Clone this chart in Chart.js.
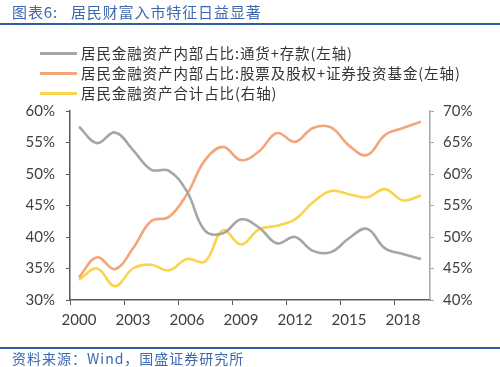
<!DOCTYPE html>
<html>
<head>
<meta charset="utf-8">
<script src="https://cdn.jsdelivr.net/npm/chart.js@4"></script>
<style>
  html, body { margin: 0; padding: 0; background: #fff; }
  #wrap { position: relative; width: 500px; height: 367px; overflow: hidden; }
  #chart { position: absolute; left: 0; top: 0; }
  .title { position: absolute; left: 12px; top: 1px; font: 15px "Noto Sans CJK SC", sans-serif; color: #3d68b0; white-space: pre; letter-spacing: 0.9px; }
  .rule { position: absolute; left: 0; width: 500px; height: 2px; background: #2e5fa3; }
  .source { position: absolute; left: 12px; top: 349px; font: 14px "Noto Sans CJK SC", sans-serif; color: #3d68b0; white-space: pre; line-height: 18px; letter-spacing: 1px; }
  #legend { position: absolute; left: 0; top: 0; }
  .lg { position: absolute; left: 40px; height: 20px; white-space: nowrap; }
  .lg i { position: absolute; left: 0; top: 9px; width: 37px; height: 3px; }
  .lg span { position: absolute; left: 41px; top: 0; font: 14.5px "Noto Sans CJK SC", sans-serif; line-height: 20px; color: #333; letter-spacing: 0.9px; }
</style>
</head>
<body>
<div id="wrap">
  <canvas id="chart" width="500" height="367"></canvas>
  <div class="title">图表6:   居民财富入市特征日益显著</div>
  <div class="rule" style="top:23px"></div>
  <div id="legend"></div>
  <div class="rule" style="top:347px"></div>
  <div class="source">资料来源：Wind，国盛证券研究所</div>
</div>
<script>
// 연도 (2000~2019)
const years = ['2000','2001','2002','2003','2004','2005','2006','2007','2008','2009',
               '2010','2011','2012','2013','2014','2015','2016','2017','2018','2019'];

// 通货+存款 (左轴, %)
const depositShare = [57.5, 54.9, 56.6, 53.8, 50.7, 50.5, 47.2, 41.0, 40.6, 42.8,
                      41.5, 39.0, 40.0, 37.8, 37.6, 39.8, 41.3, 38.2, 37.3, 36.5];
// 股票及股权+证券投资基金 (左轴, %)
const equityShare = [33.6, 36.8, 34.9, 38.2, 42.5, 43.2, 46.8, 52.2, 54.3, 52.2,
                     53.6, 56.5, 55.1, 57.3, 57.4, 54.5, 53.0, 56.2, 57.3, 58.3];
// 合计占比 (右轴, %)
const totalShare = [43.2, 45.0, 42.2, 45.0, 45.6, 44.7, 46.5, 46.1, 51.1, 48.8,
                    51.2, 51.8, 52.8, 55.5, 57.3, 56.8, 56.3, 57.6, 55.8, 56.6];

const seriesNames = ['居民金融资产内部占比:通货+存款(左轴)',
                     '居民金融资产内部占比:股票及股权+证券投资基金(左轴)',
                     '居民金融资产合计占比(右轴)'];

const leftRange = [30, 60];
const rightRange = [40, 70];

const tickFont = { family: 'Lato, "Liberation Sans", sans-serif', size: 15 };
const tickColor = '#404040';

const ds = (label, data, color, axis) => ({
  label, data, borderColor: color, backgroundColor: color, yAxisID: axis,
  borderWidth: 2.6, pointRadius: 0, tension: 0.4, fill: false
});

const chart = new Chart(document.getElementById('chart'), {
  type: 'line',
  data: {
    labels: years,
    datasets: [
      ds(seriesNames[0], depositShare, '#a6a6a6', 'y'),
      ds(seriesNames[1], equityShare, '#f2a679', 'y'),
      ds(seriesNames[2], totalShare, '#fbd44e', 'y1')
    ]
  },
  options: {
    responsive: false,
    animation: false,
    layout: { padding: { top: 111, left: 0, right: 0, bottom: 0 } },
    plugins: { legend: { display: false }, tooltip: { enabled: false } },
    scales: {
      x: {
        offset: true,
        grid: {
          offset: true, drawOnChartArea: false, drawTicks: true, tickLength: 5,
          color: c => (c.index % 3 === 0 ? '#595959' : 'rgba(0,0,0,0)')
        },
        border: { color: '#595959', width: 1.5 },
        ticks: {
          autoSkip: false, maxRotation: 0, padding: 6, color: tickColor, font: tickFont,
          callback: (v, i) => (i % 3 === 0 ? years[i] : '')
        },
        afterFit: s => { s.height = 67; }
      },
      y: {
        position: 'left', min: leftRange[0], max: leftRange[1],
        grid: { drawOnChartArea: false, tickLength: 4, color: '#595959' },
        border: { color: '#595959', width: 1.5 },
        ticks: { stepSize: 5, padding: 11, color: tickColor, font: tickFont, callback: v => v + '%' },
        afterFit: s => { s.width = 70; }
      },
      y1: {
        position: 'right', min: rightRange[0], max: rightRange[1],
        grid: { drawOnChartArea: false, tickLength: 4, color: '#a6a6a6' },
        border: { color: '#a6a6a6', width: 1.5 },
        ticks: { stepSize: 5, padding: 9, color: tickColor, font: tickFont, callback: v => v + '%' },
        afterFit: s => { s.width = 70; }
      }
    }
  }
});

// 범례는 HTML로 (세로 3줄)
const legendEl = document.getElementById('legend');
chart.data.datasets.forEach((d, i) => {
  const row = document.createElement('div');
  row.className = 'lg';
  row.style.top = (43 + i * 20) + 'px';
  const sw = document.createElement('i');
  sw.style.background = d.borderColor;
  const txt = document.createElement('span');
  txt.textContent = d.label;
  row.appendChild(sw);
  row.appendChild(txt);
  legendEl.appendChild(row);
});
</script>
</body>
</html>
